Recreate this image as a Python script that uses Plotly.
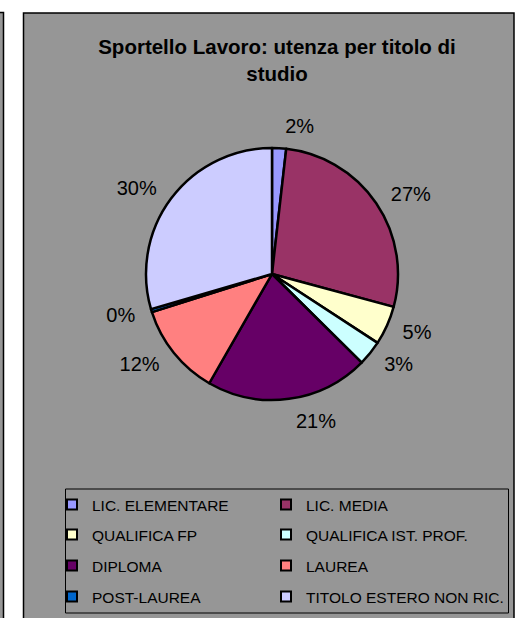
import plotly.graph_objects as go

# ---- data ----
categories = ["LIC. ELEMENTARE", "LIC. MEDIA", "QUALIFICA FP", "QUALIFICA IST. PROF.",
              "DIPLOMA", "LAUREA", "POST-LAUREA", "TITOLO ESTERO NON RIC."]
shares = [1.8, 27.4, 5.0, 3.2, 20.9, 11.8, 0.4, 29.5]
colors = ["#9999FF", "#993366", "#FFFFCC", "#CCFFFF", "#660066", "#FF8080", "#0066CC", "#CCCCFF"]
title_text = "Sportello Lavoro: utenza per titolo di<br>studio"

W, H = 515, 618
FONT = "Arial, Liberation Sans, sans-serif"


def fx(px):
    return px / W


def fy(py):
    return 1 - py / H


cx, cy, r = 272, 274, 126
r_lab = r + 11  # invisible ring that carries the outside labels

fig = go.Figure()

# label carrier (transparent, underneath)
fig.add_trace(go.Pie(
    labels=categories, values=shares, sort=False, direction="clockwise", rotation=0,
    marker=dict(colors=["rgba(0,0,0,0)"] * len(categories), line=dict(width=0)),
    textposition="outside", texttemplate="%{percent:.0%}",
    textfont=dict(family=FONT, size=20, color="black"),
    domain=dict(x=[fx(cx - r_lab), fx(cx + r_lab)], y=[fy(cy + r_lab), fy(cy - r_lab)]),
    showlegend=False, hoverinfo="skip",
))

# the pie itself
fig.add_trace(go.Pie(
    labels=categories, values=shares, sort=False, direction="clockwise", rotation=0,
    marker=dict(colors=colors, line=dict(color="black", width=2.5)),
    textinfo="none",
    domain=dict(x=[fx(cx - r), fx(cx + r)], y=[fy(cy + r), fy(cy - r)]),
    showlegend=False, hoverinfo="skip",
))

# legend entries, two per row
row_y = [505, 535, 566, 597]
col_sym_x = [72, 286]
legends = {}
for i, (cat, col) in enumerate(zip(categories, colors)):
    name = "legend" if i == 0 else f"legend{i + 1}"
    fig.add_trace(go.Scatter(
        x=[None], y=[None], mode="markers", name=cat, legend=name,
        marker=dict(symbol="square", size=10, color=col, line=dict(color="black", width=2)),
        showlegend=True,
    ))
    legends[name] = dict(
        x=fx(col_sym_x[i % 2] - 20), y=fy(row_y[i // 2]), xanchor="left", yanchor="middle",
        bgcolor="rgba(0,0,0,0)", borderwidth=0,
        font=dict(family=FONT, size=15.5, color="black"),
    )

shapes = [
    # neighbouring chart edge at the far left
    dict(type="rect", xref="paper", yref="paper", x0=fx(-10), x1=fx(3.5), y0=fy(H + 10), y1=fy(12.5),
         fillcolor="#969696", line=dict(color="black", width=1.5), layer="below"),
    # chart area
    dict(type="rect", xref="paper", yref="paper", x0=fx(23.5), x1=fx(514), y0=fy(H + 10), y1=fy(13),
         fillcolor="#969696", line=dict(color="black", width=1.5), layer="below"),
    # legend box
    dict(type="rect", xref="paper", yref="paper", x0=fx(65.5), x1=fx(508.5), y0=fy(613), y1=fy(489),
         fillcolor="rgba(0,0,0,0)", line=dict(color="black", width=1), layer="below"),
]

fig.update_layout(
    width=W, height=H, margin=dict(l=0, r=0, t=0, b=0),
    paper_bgcolor="white", plot_bgcolor="rgba(0,0,0,0)",
    xaxis=dict(visible=False), yaxis=dict(visible=False),
    title=dict(text="<b>" + title_text + "</b>", x=fx(277), xanchor="center",
               y=fy(54), yanchor="top", yref="container", xref="container",
               font=dict(family=FONT, size=20.5, color="black")),
    shapes=shapes,
    **legends,
)

fig.write_html("out.html", config={"displayModeBar": False},
               post_script="document.body.style.margin='0';document.body.style.overflow='hidden';")
